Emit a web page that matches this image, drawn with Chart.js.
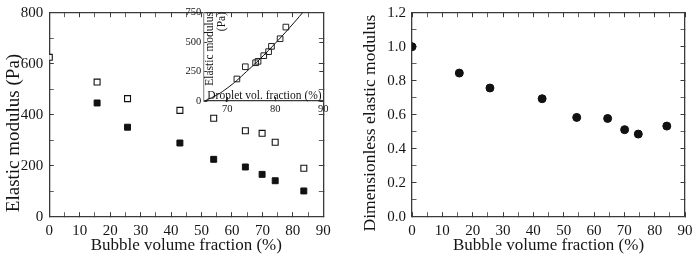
<!DOCTYPE html>
<html><head><meta charset="utf-8">
<script src="https://cdn.jsdelivr.net/npm/chart.js@4.4.1/dist/chart.umd.min.js"></script>
<style>
html,body{margin:0;padding:0;background:#fff;}
#wrap{position:relative;width:697px;height:265px;overflow:hidden;background:#fff;}
canvas{position:absolute;top:0;}
</style></head><body>
<div id="wrap">
<canvas id="left" width="350" height="265" style="left:0"></canvas>
<canvas id="right" width="347" height="265" style="left:350px"></canvas>
<canvas id="inset" width="165" height="120" style="left:165px"></canvas>
</div>
<script>
// ---- data ----
const bubbleFracOpen = [0, 15.7, 25.7, 42.9, 54.0, 64.4, 69.9, 74.2, 83.6];
const modulusOpen = [625, 528, 463, 417, 386, 337, 327, 292, 190];
const bubbleFracFilled = [15.7, 25.7, 42.9, 54.0, 64.4, 69.9, 74.2, 83.6];
const modulusFilled = [446, 351, 289, 225, 195, 166, 141, 101];
const dimlessFrac = [0, 15.6, 25.7, 42.9, 54.3, 64.5, 70.1, 74.6, 84.0];
const dimlessModulus = [1.0, 0.845, 0.757, 0.694, 0.584, 0.578, 0.512, 0.486, 0.533];
const dropletFrac = [72.0, 73.75, 75.9, 76.4, 77.6, 78.6, 79.2, 81.0, 82.2];
const dropletModulus = [187, 291, 325, 337, 385, 419, 464, 529, 628];
const fitFrac = [65.3, 68, 70, 72, 74, 76, 78, 80, 82, 84, 86];
const fitModulus = [0, 55, 110, 175, 250, 325, 405, 490, 578, 670, 765];

const mainXTicks = [0, 10, 20, 30, 40, 50, 60, 70, 80, 90];
const leftYTicks = [0, 200, 400, 600, 800];
const rightYTicks = [0, 0.2, 0.4, 0.6, 0.8, 1.0, 1.2];
const rightYTickLabels = ['0.0', '0.2', '0.4', '0.6', '0.8', '1.0', '1.2'];
const insetXTicks = [70, 80, 90];
const insetYTicks = [0, 250, 500, 750];

const xTitle = 'Bubble volume fraction (%)';
const leftYTitle = 'Elastic modulus (Pa)';
const rightYTitle = 'Dimensionless elastic modulus';
const insetYTitle = ['Elastic modulus', '(Pa)'];
const insetXTitle = 'Droplet vol. fraction (%)';

// ---- helpers ----
const SERIF = '"Liberation Serif", serif';
const INK = '#151515';
const FRAME = '#3a3a3a';
const pts = (xs, ys) => xs.map((x, i) => ({x, y: ys[i]}));
const near = (a, b) => Math.abs(a - b) < 1e-9;

// major ticks plus half-way minor ticks
function withMinor(arr, minor) {
  const out = [];
  arr.forEach((v, i) => {
    out.push(v);
    if (minor && i < arr.length - 1) out.push((v + arr[i + 1]) / 2);
  });
  return out;
}
function setTicks(arr) {
  return scale => { scale.ticks = arr.map(v => ({value: v})); };
}
function labelFor(majors, labels) {
  return v => {
    const i = majors.findIndex(t => near(t, v));
    return i < 0 ? '' : (labels ? labels[i] : String(majors[i]));
  };
}
function tickWidthFor(majors) {
  return ctx => (ctx.tick && majors.some(t => near(t, ctx.tick.value))) ? 1 : 0.8;
}

function axis(o) {
  const horiz = o.position === 'top' || o.position === 'bottom';
  return {
    type: 'linear', position: o.position, min: o.min, max: o.max,
    afterBuildTicks: setTicks(withMinor(o.majors, o.minor)),
    afterFit: s => {
      if (horiz) { s.height = o.size; s.paddingLeft = 0; s.paddingRight = 0; }
      else { s.width = o.size; s.paddingTop = 0; s.paddingBottom = 0; }
    },
    grid: {display: true, drawOnChartArea: false, drawTicks: true, tickLength: -o.tl,
           tickColor: FRAME, tickWidth: tickWidthFor(o.majors)},
    border: {display: o.border !== false, color: o.borderColor || FRAME, width: 1.3},
    ticks: {display: !!o.labels, color: INK, font: {family: SERIF, size: o.tickSize || 15},
            padding: (o.pad || 0) + o.tl, maxRotation: 0, autoSkip: false,
            callback: labelFor(o.majors, o.tickLabels)},
    title: {display: !!o.title, text: o.title || '', color: INK,
            font: {family: SERIF, size: o.titleSize || 17}, padding: {top: 0, bottom: o.titlePadB || 0}}
  };
}

function drawTexts(chart, items) {
  const ctx = chart.ctx;
  items.forEach(it => {
    ctx.save();
    ctx.font = it.font;
    ctx.fillStyle = INK;
    ctx.translate(it.x, it.y);
    if (it.rot) ctx.rotate(it.rot);
    ctx.textAlign = it.align || 'center';
    ctx.textBaseline = it.baseline || 'middle';
    ctx.fillText(it.text, 0, 0);
    ctx.restore();
  });
}
function textPlugin(name, texts) {
  return {id: 'txt_' + name, afterDraw(chart) { drawTexts(chart, texts); }};
}

const common = () => ({
  responsive: false, animation: false,
  plugins: {legend: {display: false}, tooltip: {enabled: false}}
});

// ---- left chart ----
new Chart(document.getElementById('left'), {
  type: 'scatter',
  data: {datasets: [
    {xAxisID: 'x', yAxisID: 'y', data: pts(bubbleFracOpen, modulusOpen), pointStyle: 'rect', pointRadius: 4.2,
     pointBackgroundColor: '#fff', pointBorderColor: '#111', pointBorderWidth: 1.1},
    {xAxisID: 'x', yAxisID: 'y', data: pts(bubbleFracFilled, modulusFilled), pointStyle: 'rect', pointRadius: 4.2,
     pointBackgroundColor: '#111', pointBorderColor: '#111', pointBorderWidth: 1}
  ]},
  options: Object.assign(common(), {
    layout: {padding: {left: 0, top: 12.7, right: 26.7, bottom: 0}},
    scales: {
      x: axis({position: 'bottom', min: 0, max: 90, majors: mainXTicks, minor: true, size: 48.3, tl: 4.5,
               labels: true, pad: 5, title: xTitle, titlePadB: 9}),
      y: axis({position: 'left', min: 0, max: 800, majors: leftYTicks, minor: true, size: 49.3, tl: 4.5,
               labels: true, pad: 6}),
      x2: axis({position: 'top', min: 0, max: 90, majors: mainXTicks, minor: true, size: 0, tl: 4.5}),
      y2: axis({position: 'right', min: 0, max: 800, majors: leftYTicks, minor: true, size: 0, tl: 4.5})
    }
  }),
  plugins: [textPlugin('left', [{text: leftYTitle, x: 14, y: 133, rot: -Math.PI / 2, font: `19px ${SERIF}`}])]
});

// ---- right chart ----
new Chart(document.getElementById('right'), {
  type: 'scatter',
  data: {datasets: [
    {xAxisID: 'x', yAxisID: 'y', data: pts(dimlessFrac, dimlessModulus), pointStyle: 'circle', pointRadius: 4,
     pointBackgroundColor: '#111', pointBorderColor: '#111', pointBorderWidth: 1}
  ]},
  options: Object.assign(common(), {
    layout: {padding: {left: 0, top: 12.7, right: 12, bottom: 0}},
    scales: {
      x: axis({position: 'bottom', min: 0, max: 90, majors: mainXTicks, minor: true, size: 48.3, tl: 4.5,
               labels: true, pad: 5, title: xTitle, titlePadB: 9}),
      y: axis({position: 'left', min: 0, max: 1.2, majors: rightYTicks, tickLabels: rightYTickLabels, minor: true,
               size: 62, tl: 4.5, labels: true, pad: 6}),
      x2: axis({position: 'top', min: 0, max: 90, majors: mainXTicks, minor: true, size: 0, tl: 4.5}),
      y2: axis({position: 'right', min: 0, max: 1.2, majors: rightYTicks, minor: true, size: 0, tl: 4.5})
    }
  }),
  plugins: [textPlugin('right', [{text: rightYTitle, x: 20, y: 123, rot: -Math.PI / 2, font: `17.5px ${SERIF}`}])]
});

// ---- inset ----
new Chart(document.getElementById('inset'), {
  type: 'scatter',
  data: {datasets: [
    {type: 'line', xAxisID: 'x', yAxisID: 'y', data: pts(fitFrac, fitModulus), borderColor: '#111', borderWidth: 1,
     pointRadius: 0, tension: 0.4, fill: false},
    {xAxisID: 'x', yAxisID: 'y', data: pts(dropletFrac, dropletModulus), pointStyle: 'rect', pointRadius: 4,
     pointBackgroundColor: 'rgba(0,0,0,0)', pointBorderColor: '#222', pointBorderWidth: 1}
  ]},
  options: Object.assign(common(), {
    layout: {padding: {left: 0, top: 12.7, right: 6.7, bottom: 0}},
    scales: {
      x: axis({position: 'bottom', min: 65, max: 90, majors: insetXTicks, minor: false, size: 19, tl: 4,
               labels: true, pad: 2, tickSize: 10.5}),
      y: axis({position: 'left', min: 0, max: 750, majors: insetYTicks, minor: false, size: 38.3, tl: 4,
               labels: true, pad: 2, tickSize: 10.5, borderColor: '#9a9a9a'}),
      y2: axis({position: 'right', min: 0, max: 750, majors: insetYTicks, minor: false, size: 0, tl: 4, border: false})
    }
  }),
  plugins: [textPlugin('inset', [
    {text: insetYTitle[0], x: 44.5, y: 12, rot: -Math.PI / 2, align: 'right', font: `11.5px ${SERIF}`},
    {text: insetYTitle[1], x: 56.5, y: 12, rot: -Math.PI / 2, align: 'right', font: `11.5px ${SERIF}`},
    {text: insetXTitle, x: 42.3, y: 98.5, align: 'left', baseline: 'alphabetic', font: `11.5px ${SERIF}`}
  ])]
});
</script>
</body></html>
